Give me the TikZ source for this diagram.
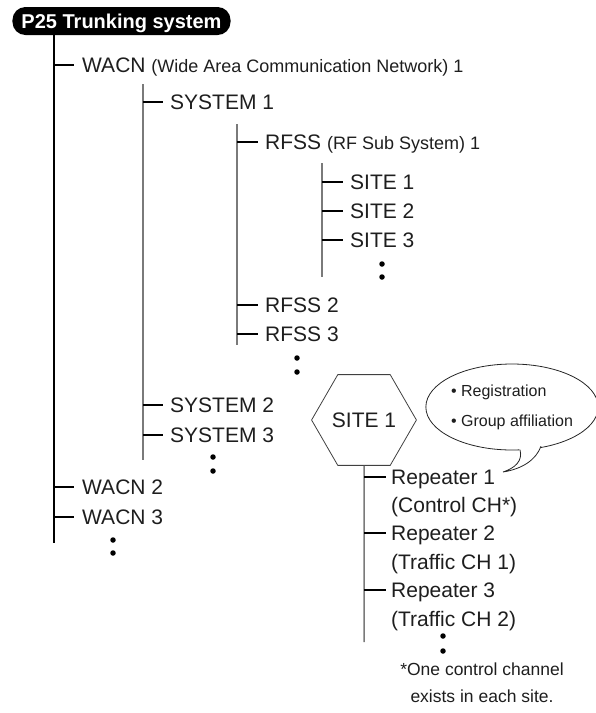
\documentclass[tikz,border=0pt]{standalone}
\usepackage{fontspec}
\setmainfont{Liberation Sans}
\usetikzlibrary{shapes.geometric}
\definecolor{txt}{HTML}{1E1E1E}
\definecolor{linegray}{HTML}{7A7A7A}
\newcommand{\smallparen}{\fontsize{18}{21}\selectfont}
\begin{document}
\begin{tikzpicture}[x=1pt,y=-1pt,
  lbl/.style={anchor=west,inner sep=0pt,text height=15pt,text depth=0pt,font=\fontsize{21}{25}\selectfont,text=txt},
  vline/.style={draw=linegray,line width=1.5pt},
  mainline/.style={draw=black,line width=1.5pt},
  tick/.style={draw=black,line width=1.5pt},
  dotmark/.style={circle,fill=black,inner sep=0pt,minimum size=5.5pt},
]
\useasboundingbox (0,0) rectangle (596,713);

% title
\node[fill=black, rounded corners=13pt, text=white, font=\bfseries\fontsize{20}{24}\selectfont,
      minimum height=28pt, text height=14.5pt, text depth=0pt, inner xsep=9pt, inner ysep=0pt]
      (title) at (121.5,21) {P25 Trunking system};

% level texts
\node[lbl] (wacn1) at (82,65) {WACN {\smallparen(Wide Area Communication Network) 1}};
\node[lbl] (sys1) at (170,102) {SYSTEM 1};
\node[lbl] (rfss1) at (265,142) {RFSS {\smallparen(RF Sub System) 1}};
\node[lbl] (site1) at (350,182) {SITE 1};
\node[lbl] (site2) at (350,211) {SITE 2};
\node[lbl] (site3) at (350,240) {SITE 3};
\node[dotmark] (sd1) at (382,264) {};
\node[dotmark] (sd2) at (382,277) {};
\node[lbl] (rfss2) at (265,305) {RFSS 2};
\node[lbl] (rfss3) at (265,334) {RFSS 3};
\node[dotmark] (rd1) at (297,358) {};
\node[dotmark] (rd2) at (297,372) {};
\node[lbl] (sys2) at (170,405) {SYSTEM 2};
\node[lbl] (sys3) at (170,435) {SYSTEM 3};
\node[dotmark] (yd1) at (213,457) {};
\node[dotmark] (yd2) at (213,471) {};
\node[lbl] (wacn2) at (82,487) {WACN 2};
\node[lbl] (wacn3) at (82,517) {WACN 3};
\node[dotmark] (wd1) at (113,540) {};
\node[dotmark] (wd2) at (113,553) {};

% vertical lines
\coordinate (mbot) at (54,543);
\coordinate (stop) at (143,84);
\coordinate (sbot) at (143,460);
\coordinate (rtop) at (237,124);
\coordinate (rbot) at (237,345);
\coordinate (ttop) at (322,163);
\coordinate (tbot) at (322,277);
\draw[mainline] (title.south -| mbot) -- (mbot);
\draw[vline] (stop) -- (sbot);
\draw[vline] (rtop) -- (rbot);
\draw[vline] (ttop) -- (tbot);

% ticks
\foreach \n in {wacn1,wacn2,wacn3}{\draw[tick] (mbot |- \n.west) -- ([xshift=-8pt]\n.west);}
\foreach \n in {sys1,sys2,sys3}{\draw[tick] (sbot |- \n.west) -- ([xshift=-7pt]\n.west);}
\foreach \n in {rfss1,rfss2,rfss3}{\draw[tick] (rbot |- \n.west) -- ([xshift=-7pt]\n.west);}
\foreach \n in {site1,site2,site3}{\draw[tick] (tbot |- \n.west) -- ([xshift=-7pt]\n.west);}

% site detail
\node[regular polygon, regular polygon sides=6, draw=black!75, line width=0.8pt, minimum size=80pt,
      inner sep=0pt, font=\fontsize{21}{25}\selectfont, text=txt] (hex) at (364,420) {SITE 1};
\coordinate (pbot) at (364,642);
\draw[vline] (hex.south) -- (pbot);
\node[lbl] (rep1) at (391,477) {Repeater 1};
\node[lbl] (rep1b) at (391,505) {(Control CH*)};
\node[lbl] (rep2) at (391,533) {Repeater 2};
\node[lbl] (rep2b) at (391,562) {(Traffic CH 1)};
\node[lbl] (rep3) at (391,590) {Repeater 3};
\node[lbl] (rep3b) at (391,619) {(Traffic CH 2)};
\foreach \n in {rep1,rep2,rep3}{\draw[tick] (pbot |- \n.west) -- ([xshift=-5pt]\n.west);}
\node[dotmark] (pd1) at (443,636) {};
\node[dotmark] (pd2) at (443,651) {};

\node[align=center, inner sep=0pt, font=\fontsize{17.5}{27}\selectfont, text=txt] (note) at (482,683)
  {*One control channel\\exists in each site.};

% speech bubble
\node[ellipse, draw=black!85, line width=0.8pt, fill=white, minimum width=142pt, minimum height=86pt,
      inner sep=0pt, align=left, font=\fontsize{16}{30}\selectfont, text=txt] (bub) at (512,407)
  {\textbullet\ Registration\\\textbullet\ Group affiliation};
\coordinate (tipA) at (520,449.7);
\coordinate (tipB) at (541,446.2);
\coordinate (tip) at (503,472);
\fill[white] (519,447.5) .. controls (523,461) and (515,468) .. (tip)
  .. controls (522,469) and (536,460) .. (542,444) -- cycle;
\draw[draw=black!85, line width=0.8pt] (tipA) .. controls (523,461) and (515,468) .. (tip)
  .. controls (522,469) and (536,460) .. (tipB);
\end{tikzpicture}
\end{document}
